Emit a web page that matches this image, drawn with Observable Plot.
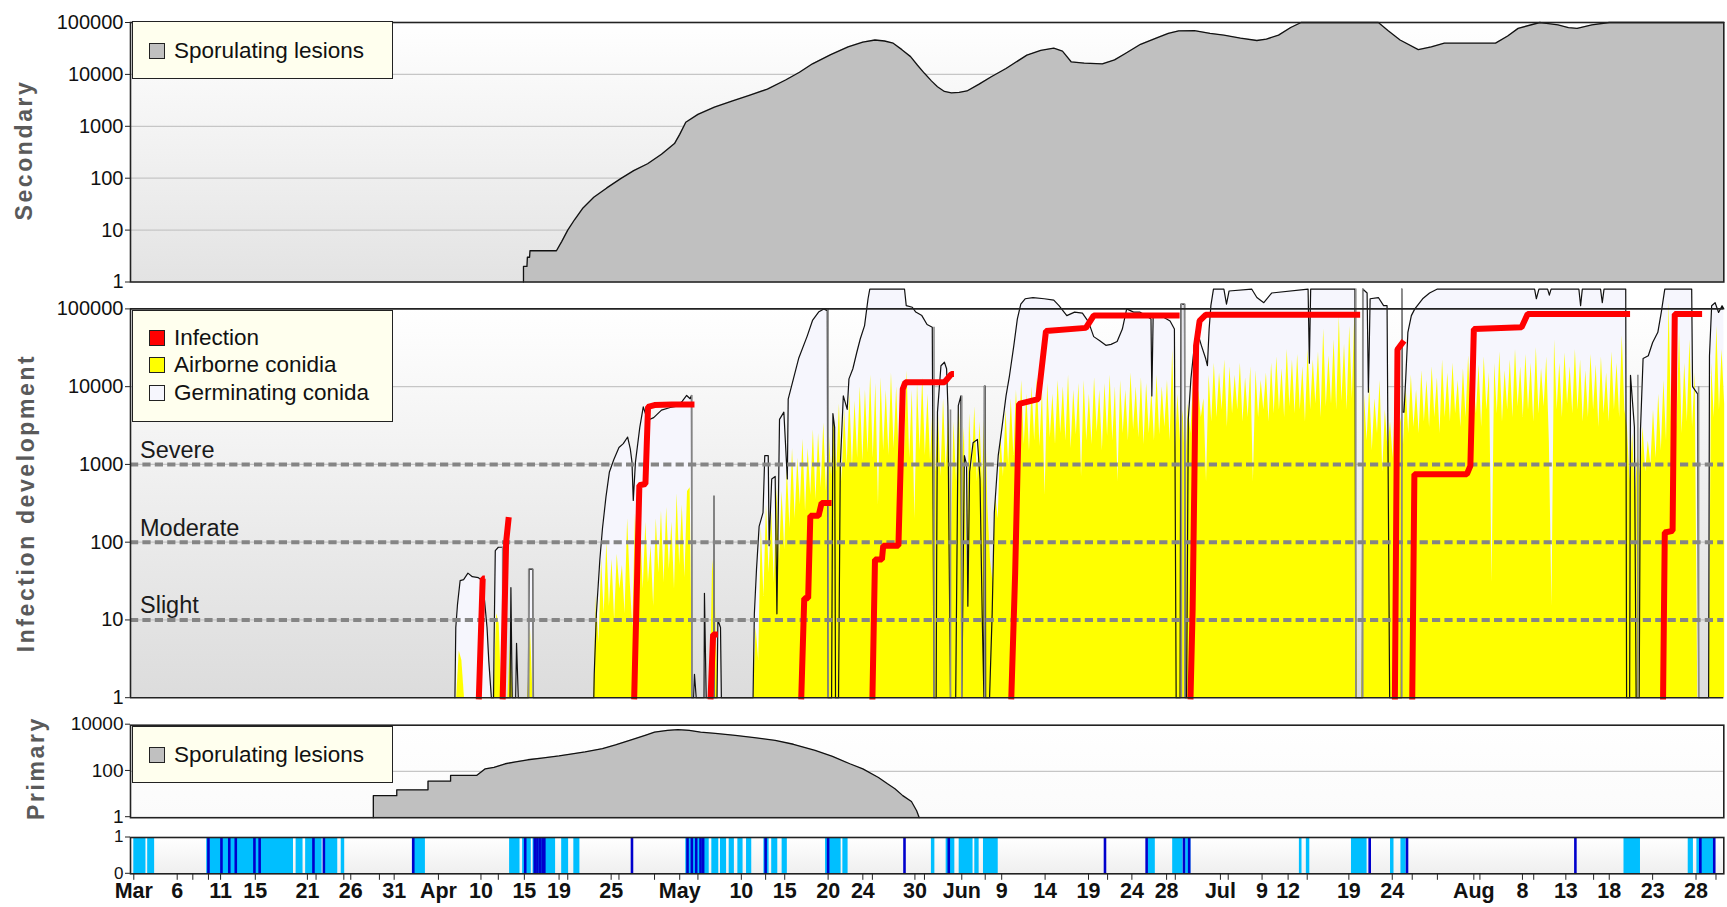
<!DOCTYPE html>
<html><head><meta charset="utf-8">
<script src="https://cdn.jsdelivr.net/npm/d3@7"></script>
<script src="https://cdn.jsdelivr.net/npm/@observablehq/plot@0.6"></script>
<style>
body{margin:0;background:#fff;}
#wrap{position:relative;width:1727px;height:907px;overflow:hidden;font-family:"Liberation Sans",Arial,Helvetica,sans-serif;}
#wrap svg{position:absolute;left:0;}
.ytitle{position:absolute;transform:translate(-50%,-50%) rotate(-90deg);white-space:nowrap;font-weight:bold;color:#5a5a5a;font-size:23px;letter-spacing:2.6px;}
.legend{position:absolute;background:#ffffee;border:1.6px solid #222;box-sizing:border-box;}
.item{position:absolute;left:16px;height:26px;display:flex;align-items:center;font-size:22.5px;color:#111;white-space:nowrap;}
.sw{width:16px;height:16px;border:1.4px solid #222;margin-right:9px;box-sizing:border-box;}
</style></head>
<body><div id="wrap"></div>
<script>
// ---------------- DATA (day 0 = 1 March) ----------------
const tickDays   = [0,5,10,14,20,25,30,35.1,40,45,49,55,62.9,70,75,80,84,90,95.4,100,105,110,115,119,125.2,130,133,140,145,154.4,160,165,170,175,180];
const tickLabels = ["Mar","6","11","15","21","26","31","Apr","10","15","19","25","May","10","15","20","24","30","Jun","9","14","19","24","28","Jul","9","12","19","24","Aug","8","13","18","23","28"];
const minorTicks = [6.8,8.6,21,24.2,28.3,42,50,55.9,60,65,72.8,85.1,91.1,98.1,112.2,120,126.1,135.2,147.3,150.2,155.1,161.3,168.2,182.3];

const logTicks5 = [1,10,100,1000,10000,100000];
const primaryTicks = [1,100,10000];
const barTicks = [0,1];
const thresholdValues = [10,100,1000];
const thresholdLabels = ["Slight","Moderate","Severe"];

// Secondary sporulating lesions [day, value]
const secondary = [[44.9,1],[44.9,2],[45.3,2],[45.35,3],[45.6,3],[45.65,4],[48.7,4],[49.3,6],[50.0,10],[50.8,16],[51.7,26],[53.0,43],[54.5,65],[56.1,98],[57.6,140],[59.2,190],[60.8,290],[62.3,465],[62.9,700],[63.6,1200],[65.0,1700],[66.9,2350],[69.0,3100],[71.0,4000],[73.0,5200],[75.1,7800],[76.7,11000],[78.2,16000],[80.3,24000],[82.3,34000],[84.0,42000],[85.4,46000],[86.5,44000],[87.5,40000],[88.5,30000],[89.5,22000],[90.3,15000],[91.1,10500],[91.9,7500],[92.6,5800],[93.4,4700],[94.2,4400],[95.1,4500],[96.0,4800],[97.4,6500],[98.8,9000],[100.5,13000],[102.9,23500],[104.5,29000],[106.0,32000],[107.0,28000],[108.0,17500],[109.5,16500],[111.6,16000],[113.0,19000],[114.2,25000],[116.0,38000],[117.8,50000],[119.2,62000],[120.4,69000],[122.2,70000],[124.0,62000],[125.6,57000],[127.5,50000],[129.4,45000],[130.5,48000],[131.9,57000],[133.3,80000],[134.5,100000],[143.4,100000],[144.5,70000],[145.9,46000],[148.0,30000],[149.5,34000],[151.0,40000],[153.9,40000],[156.9,40000],[158.3,55000],[159.5,77000],[162.0,100000],[163.0,95000],[164.1,90000],[165.3,80000],[166.3,77000],[168.0,90000],[170.0,100000],[183.2,100000]];

// Primary sporulating lesions [day, value]
const primary = [[27.6,1],[27.6,9],[30.3,9],[30.3,16],[33.9,16],[33.9,38],[36.5,38],[36.5,67],[39.5,67],[40.5,130],[41.5,150],[42.8,215],[44.0,260],[45.4,320],[47.0,380],[49.0,470],[50.7,585],[52.0,700],[54.0,960],[55.5,1400],[57.4,2350],[59.0,3700],[60.0,5000],[61.5,6000],[62.7,6500],[64.0,6000],[65.3,5000],[67.0,4400],[69.3,3600],[71.5,2900],[73.9,2200],[76.0,1500],[78.5,810],[80.5,450],[82.5,215],[84.0,130],[85.8,55],[86.8,30],[87.7,18],[88.6,9],[89.6,5],[90.2,2],[90.5,1]];

// Germinating conidia [day, value]
const germinating = [[37.0,1],[37.1,8],[37.3,16],[37.6,32],[38.0,33],[38.5,40],[39.0,36],[39.7,35],[40.2,32],[40.7,8],[40.9,3],[41.2,1],
[41.45,1],[41.5,4],[41.65,78],[42.0,86],[42.5,86],[42.55,1],[43.35,1],[43.45,26],[43.6,1],[44.0,1],[44.1,5],[44.3,1],[45.45,1],[45.55,45],[45.95,45],[46.05,1],
[53.0,1],[53.05,2],[53.3,12],[53.7,60],[54.0,150],[54.4,380],[54.8,800],[55.3,1150],[55.9,1650],[56.4,1850],[56.9,2250],[57.2,1600],[57.4,1070],[57.55,345],[57.8,1070],[58.3,3000],[58.7,5500],[59.2,3700],[59.9,4000],[60.8,5000],[61.8,5400],[62.6,5600],[63.2,6500],[63.7,7700],[64.1,7000],[64.25,7700],[64.3,1],
[64.5,1],[64.6,2],[64.8,1],[65.7,1],[65.75,22],[65.95,1],[66.8,1],[66.85,390],[66.9,1],[67.2,1],[67.3,10],[67.6,8],[67.7,1],
[71.35,1],[71.5,12],[71.75,45],[72.05,160],[72.5,240],[72.7,1300],[73.1,1300],[73.2,90],[73.5,650],[73.9,700],[74.1,12],[74.4,3800],[74.9,4700],[75.3,650],[75.4,6900],[76.0,12600],[76.6,23000],[77.6,45000],[78.2,71000],[78.9,91000],[79.5,100000],[79.9,95000],[80.0,1],
[80.4,1],[80.55,4500],[80.75,3000],[80.85,1],[81.2,1],[81.4,950],[81.75,7600],[82.2,5100],[82.4,12600],[82.85,17000],[83.3,27500],[83.7,41000],[84.2,61000],[84.6,135000],[84.8,180000],[88.8,180000],[89.0,110000],[89.7,105000],[90.1,91000],[90.8,82000],[91.4,63000],[92.0,58000],[92.2,1],
[92.45,1],[92.5,45],[92.6,4700],[93.0,18600],[93.4,20600],[93.65,17000],[93.8,5600],[93.9,240],[94.1,1],[94.7,1],[95.0,5700],[95.3,7600],[95.4,1],[95.7,1300],[95.95,1000],[96.1,15],[96.3,800],[96.7,1900],[97.2,2100],[97.5,650],[97.75,12],[97.95,1],[98.0,10200],[98.1,10200],[98.15,1],
[98.6,1],[98.9,12],[99.15,240],[99.6,1300],[100.0,2800],[100.5,7600],[100.9,13900],[101.4,34000],[101.8,74000],[102.2,115000],[102.7,135000],[103.6,140000],[104.9,135000],[106.0,130000],[106.6,110000],[107.5,82000],[108.4,91000],[109.3,88000],[110.0,68000],[110.6,44000],[111.3,39000],[112.0,34000],[112.6,35000],[113.3,38000],[113.9,55000],[114.4,100000],[115.2,91000],[115.9,91000],[116.6,82000],[117.2,74000],[117.3,7600],[117.45,80000],[118.5,80000],[119.4,70000],[119.9,55000],[120.1,1],
[120.55,1],[120.65,115000],[121.05,115000],[121.15,1],
[121.3,1],[121.5,3800],[121.8,12600],[122.2,34000],[122.6,48000],[123.0,34000],[123.5,23000],[123.7,18600],[123.9,55000],[124.1,110000],[124.4,180000],[125.6,180000],[125.9,115000],[126.2,170000],[128.8,180000],[129.4,140000],[130.2,120000],[131.1,160000],[135.3,180000],[135.45,20000],[135.6,180000],[140.7,180000],[140.8,1],
[141.55,1],[141.6,180000],[142.1,160000],[142.25,8500],[142.45,135000],[143.4,140000],[144.0,110000],[144.4,110000],[144.7,1],
[146.05,1],[146.1,180000],[146.2,4700],[146.35,4700],[146.55,12600],[146.8,50000],[147.2,82000],[147.6,100000],[148.5,135000],[149.3,160000],[150.2,180000],[161.4,180000],[161.6,135000],[161.9,180000],[162.9,180000],[163.1,150000],[163.3,180000],[166.5,180000],[166.7,110000],[166.9,180000],[169.0,180000],[169.2,120000],[169.4,180000],[171.9,180000],[172.0,1],
[172.35,1],[172.45,14000],[172.9,3000],[173.1,1],
[173.45,1],[173.6,2800],[173.9,23000],[174.5,25000],[175.0,37000],[175.6,50000],[176.0,91000],[176.4,180000],[179.5,180000],[179.6,10000],[180.2,8000],[180.3,1],
[181.45,1],[181.55,25000],[181.8,110000],[182.2,120000],[182.6,90000],[183.0,110000],[183.2,100000]];

// grey drop edges of the germinating-conidia outline [day, top value]
const greyEdges = [[42.5,86],[45.5,45],[46.0,45],[64.3,7700],[66.85,390],[80.0,100000],[92.2,58000],[94.1,5000],[95.4,7600],[98.05,10200],[120.7,115000],[121.1,115000],[140.8,180000],[141.6,180000],[146.1,180000],[173.3,14000],[180.3,10000]];

// Airborne conidia: segments sampled every 0.3 day from their start day
const yellowStarts = [37.2, 41.5, 43.1, 45.4, 53.0, 66.4, 71.4, 141.5, 181.5];
const yellowValues = [
 [1,4,3,1],
 [1,12,9,1],
 [1,5,1],
 [1,8,1],
 [1,20,5,60,12,100,15,60,10,70,25,50,12,200,30,8,230,40,150,25,180,30,90,15,200,40,250,30,280,45,180,25,420,50,300,35,450,500,1],
 [1,60,20,1],
 [1,8,3,160,20,300,40,250,30,500,
  60,450,80,900,150,1600,200,1200,300,2100,
  250,1600,400,2800,350,2500,500,3400,450,3000,
  700,4500,800,6000,600,5000,1000,8000,900,6500,
  1200,10000,1100,9000,1400,14000,1200,11000,300,13000,
  1500,9000,1300,15000,1600,10000,1100,12000,1400,16000,
  1200,9000,200,11000,1500,13000,1300,8000,1100,6000,
  800,5000,700,7000,900,4000,100,3500,600,6000,
  700,3000,40,4500,800,5500,600,3500,500,8000,
  300,60,30,400,200,2500,700,5000,1000,7000,
  1300,9000,1500,12000,1800,8000,1500,10000,2000,13000,
  1700,9000,400,11000,2200,8000,1800,12000,2500,10000,
  2000,14000,1600,9000,2400,11000,700,12000,2000,8000,
  1800,13000,2600,9000,1500,11000,2300,14000,2000,10000,
  600,12000,2500,9000,2000,15000,2800,10000,2200,13000,
  1800,11000,2500,9000,2000,14000,2400,10000,3000,12000,
  2000,30000,1500,8000,2000,5000,800,6000,2500,12000,
  3500,9000,4000,7000,600,14000,3500,20000,4000,15000,
  5000,22000,3000,18000,4500,14000,5000,20000,3500,13000,
  4000,18000,600,16000,4000,12000,5000,15000,3500,20000,
  4500,24000,5000,17000,4000,30000,5500,22000,4500,26000,
  5000,18000,3500,30000,5000,22000,6000,28000,4000,55000,
  5500,25000,6000,40000,5000,80000,6500,35000,5000,60000,
  7000,100000,1],
 [1,8000,2000,10000,1500,7000,2500,12000,800,5000,
  1600,3500,1200,9000,2000,4000,1800,10000,2500,14000,
  3000,9000,2500,16000,3500,12000,3000,18000,4000,13000,
  2500,22000,4000,15000,3500,20000,4500,12000,3000,17000,
  4000,25000,3500,14000,4500,19000,3000,24000,5000,15000,
  30,20000,4500,28000,3500,16000,5000,22000,4000,30000,
  5500,18000,4000,26000,5000,20000,3500,32000,4500,17000,
  5500,24000,2000,15,40000,5000,20000,4000,27000,6000,
  18000,4500,30000,5000,22000,3500,16000,4000,26000,5000,
  19000,3000,24000,4500,15000,3500,28000,5000,20000,4000,
  45000,5000,3000,600,2500,400,1500,700,3000,800,
  2000,1000,5000,1200,8000,1500,12000,2000,120000,2500,
  30000,3000,50000,2500,20000,3500,40000,3000,15000,1],
 [1,20000,4000,60000,5000,30000,6000]
];

// Infection: step segments [day, value]
const infection = [
 [[39.75,0.95],[40.2,34],[40.45,34]],
 [[42.5,0.95],[42.9,100],[43.2,210]],
 [[57.65,0.95],[58.25,540],[58.95,560],[59.25,5500],[60.0,5800],[62.0,5900],[64.6,5900]],
 [[66.45,0.95],[66.75,6.5],[67.3,6.5]],
 [[76.9,0.95],[77.25,19],[77.7,19],[77.95,218],[78.9,218],[79.25,320],[80.4,320]],
 [[85.1,0.95],[85.4,60],[86.2,60],[86.35,90],[88.1,90],[88.6,9300],[88.9,11400],[93.4,11400],[94.2,14500],[94.5,14500]],
 [[101.1,0.95],[101.55,40],[102.0,6000],[104.2,6900],[105.1,52000],[109.7,57000],[110.6,82000],[120.5,82000]],
 [[121.75,0.95],[122.0,14],[122.2,650],[122.4,34000],[122.8,70000],[123.5,84000],[141.3,84000]],
 [[145.3,0.95],[145.6,30000],[146.35,39000]],
 [[147.3,0.95],[147.55,750],[153.6,750],[154.0,960],[154.4,55000],[159.9,58000],[160.6,86000],[172.4,86000]],
 [[176.2,0.95],[176.4,133],[177.3,140],[177.55,86000],[180.7,86000]]
];

// Wetness bars: light (cyan) spans and dark-blue events
const cyanSpans = [[0,1.4],[1.6,2.4],[8.4,18.4],[18.7,19.5],[19.8,21.7],[22.0,23.5],[23.9,24.3],[32.1,33.6],[43.3,44.5],[44.8,45.8],[46.0,48.6],[49.3,50.1],[50.7,51.4],[63.6,66.3],[66.6,67.4],[67.6,68.3],[68.6,69.2],[69.6,70.2],[70.6,71.2],[72.6,73.2],[73.5,74.2],[74.7,75.3],[79.7,81.5],[81.7,82.3],[91.9,92.3],[93.6,94.6],[95.1,96.7],[96.9,97.4],[97.9,99.6],[116.9,117.7],[119.7,120.9],[121.2,121.8],[134.3,134.6],[135.1,135.5],[140.3,142.1],[144.8,145.2],[146.0,146.6],[171.7,173.6],[179.1,179.7],[180.1,182.2]];
const darkBlue = [8.6,10.1,11.0,11.75,13.9,14.5,20.7,21.9,32.2,45.1,46.2,46.5,46.8,47.1,47.3,57.4,63.8,64.3,64.8,65.3,65.6,72.8,80.0,88.8,93.9,111.9,116.7,121.0,121.6,142.4,146.7,166.1,180.5,182.1];

// ---------------- RENDER ----------------
const W = 1727, ML = 130, MR = 3.7;
const xDomain = [-0.38, 183.2];
const FONT = '"Liberation Sans", Arial, Helvetica, sans-serif';
const wrap = document.getElementById("wrap");
const style = {fontFamily: FONT, fontSize: "20px", color: "#111", background: "transparent", overflow: "visible"};

function gradientBg(id, top, bottom, c1, c2) {
  return (index, scales, values, dims) => {
    const x0 = dims.marginLeft, x1 = dims.width - dims.marginRight;
    const y0 = scales.y(top), y1 = scales.y(bottom);
    const g = d3.create("svg:g");
    const lg = g.append("defs").append("linearGradient").attr("id", id)
      .attr("x1", 0).attr("y1", 0).attr("x2", 0).attr("y2", 1);
    lg.append("stop").attr("offset", 0).attr("stop-color", c1);
    lg.append("stop").attr("offset", 1).attr("stop-color", c2);
    g.append("rect").attr("x", x0).attr("y", y0).attr("width", x1 - x0).attr("height", y1 - y0).attr("fill", `url(#${id})`);
    return g.node();
  };
}
function place(svg, top) { svg.style.top = top + "px"; wrap.appendChild(svg); }
const yAxis = (ticks, fs = 20, dy = 0) => Plot.axisY(ticks, {tickSize: 5, tickPadding: 2, tickFormat: d => String(d), fontSize: fs, dy, label: null, stroke: "#222"});

// Panel 1: Secondary
place(Plot.plot({
  width: W, height: 290, marginLeft: ML, marginRight: MR, marginTop: 22, marginBottom: 8.5,
  style,
  x: {domain: xDomain, axis: null},
  y: {type: "log", domain: [1, 1e5], axis: null},
  marks: [
    gradientBg("gsec", 1e5, 1, "#ffffff", "#e3e3e3"),
    Plot.ruleY(logTicks5.slice(1, -1), {stroke: "#c6c6c6", strokeWidth: 1.2}),
    Plot.areaY(secondary, {x: d => d[0], y1: () => 1, y2: d => d[1], fill: "#c0c0c0"}),
    Plot.line(secondary, {x: d => d[0], y: d => d[1], stroke: "#111", strokeWidth: 1.3}),
    Plot.frame({stroke: "#222", strokeWidth: 1.6}),
    yAxis(logTicks5)
  ]
}), 0);

// Panel 2: Infection development
const yellowFlat = yellowStarts.flatMap((s, k) => yellowValues[k].map((v, i) => ({seg: k, day: s + 0.3 * i, value: v})));
const infFlat = infection.flatMap((seg, k) => seg.map(([d, v]) => ({seg: k, day: d, value: v})));
place(Plot.plot({
  width: W, height: 425, marginLeft: ML, marginRight: MR, marginTop: 6.55, marginBottom: 9.8,
  style,
  x: {domain: xDomain, axis: null},
  y: {type: "log", domain: [1, 180000], axis: null},
  marks: [
    gradientBg("gmid", 1e5, 1, "#ffffff", "#dcdcdc"),
    Plot.ruleY(logTicks5.slice(1, -1), {stroke: "#c6c6c6", strokeWidth: 1.2}),
    Plot.areaY(germinating, {x: d => d[0], y1: () => 1, y2: d => d[1], fill: "#f6f6fd"}),
    Plot.areaY(yellowFlat, {x: "day", y1: () => 1, y2: "value", z: "seg", fill: "#ffff00"}),
    Plot.line(germinating, {x: d => d[0], y: d => d[1], stroke: "#111", strokeWidth: 1.2}),
    Plot.ruleX(greyEdges, {x: d => d[0], y1: () => 1, y2: d => d[1], stroke: "#8c8c8c", strokeWidth: 1.6}),
    Plot.ruleY(thresholdValues, {stroke: "#858585", strokeWidth: 4, strokeDasharray: "8.2,4.2"}),
    Plot.text(thresholdValues, {x: () => xDomain[0], y: d => d, text: (d, i) => thresholdLabels[i], dx: 9.5, dy: -14, textAnchor: "start", fontSize: 23.5, fill: "#1a1a1a"}),
    Plot.line(infFlat, {x: "day", y: "value", z: "seg", stroke: "#ff0000", strokeWidth: 6, strokeLinejoin: "miter", strokeLinecap: "butt"}),
    Plot.ruleY([1, 1e5], {stroke: "#222", strokeWidth: 1.6}),
    Plot.ruleX([xDomain[0]], {y1: () => 1, y2: () => 1e5, stroke: "#222", strokeWidth: 1.6}),
    yAxis(logTicks5)
  ]
}), 282);

// Panel 3: Primary
place(Plot.plot({
  width: W, height: 120, marginLeft: ML, marginRight: MR, marginTop: 19.7, marginBottom: 7.8,
  style,
  x: {domain: xDomain, axis: null},
  y: {type: "log", domain: [1, 1e4], axis: null},
  marks: [
    gradientBg("gpri", 1e4, 1, "#ffffff", "#fbfbfb"),
    Plot.ruleY([100], {stroke: "#c6c6c6", strokeWidth: 1.2}),
    Plot.areaY(primary, {x: d => d[0], y1: () => 1, y2: d => d[1], fill: "#c0c0c0"}),
    Plot.line(primary, {x: d => d[0], y: d => d[1], stroke: "#111", strokeWidth: 1.3}),
    Plot.frame({stroke: "#222", strokeWidth: 1.6}),
    yAxis(primaryTicks, 19, -1)
  ]
}), 705);

// Panel 4: wetness bars + date axis
const labelOf = new Map(tickDays.map((d, i) => [d, tickLabels[i]]));
place(Plot.plot({
  width: W, height: 81, marginLeft: ML, marginRight: MR, marginTop: 11, marginBottom: 33.7,
  style,
  x: {domain: xDomain, axis: null},
  y: {domain: [0, 1], axis: null},
  marks: [
    gradientBg("gbar", 1, 0, "#ffffff", "#efefef"),
    Plot.rect(cyanSpans, {x1: d => d[0], x2: d => d[1], y1: () => 0, y2: () => 1, fill: "#00bfff"}),
    Plot.ruleX(darkBlue, {x: d => d, y1: () => 0, y2: () => 1, stroke: "#0000cd", strokeWidth: 2.6}),
    Plot.frame({stroke: "#222", strokeWidth: 1.6}),
    yAxis(barTicks, 17, -0.5),
    Plot.axisX(tickDays.concat(minorTicks), {tickSize: 6.5, tickFormat: () => null, stroke: "#222", label: null}),
    Plot.text(tickDays, {x: d => d, text: d => labelOf.get(d), frameAnchor: "bottom", dy: 24.5, fontSize: 21.5, fontWeight: "bold", fill: "#111"})
  ]
}), 826);

// ---------------- HTML overlays: axis titles and legends ----------------
function div(cls, css, html) { const e = document.createElement("div"); e.className = cls; Object.assign(e.style, css); e.innerHTML = html || ""; wrap.appendChild(e); return e; }
div("ytitle", {left: "24px", top: "150px"}, "Secondary");
div("ytitle", {left: "26px", top: "503px"}, "Infection development");
div("ytitle", {left: "36px", top: "768px"}, "Primary");

function legend(left, top, w, h, items) {
  const L = div("legend", {left: left + "px", top: top + "px", width: w + "px", height: h + "px"});
  items.forEach(([color, label, cy]) => {
    const it = document.createElement("div");
    it.className = "item"; it.style.top = (cy - 13) + "px";
    it.innerHTML = `<span class="sw" style="background:${color}"></span><span>${label}</span>`;
    L.appendChild(it);
  });
}
legend(132, 21, 261, 58, [["#c0c0c0", "Sporulating lesions", 28.5]]);
legend(132, 310, 261, 112, [["#ff0000", "Infection", 26.5], ["#ffff00", "Airborne conidia", 54], ["#f6f6fd", "Germinating conida", 81.5]]);
legend(132, 726, 261, 57, [["#c0c0c0", "Sporulating lesions", 28]]);
</script></body></html>
